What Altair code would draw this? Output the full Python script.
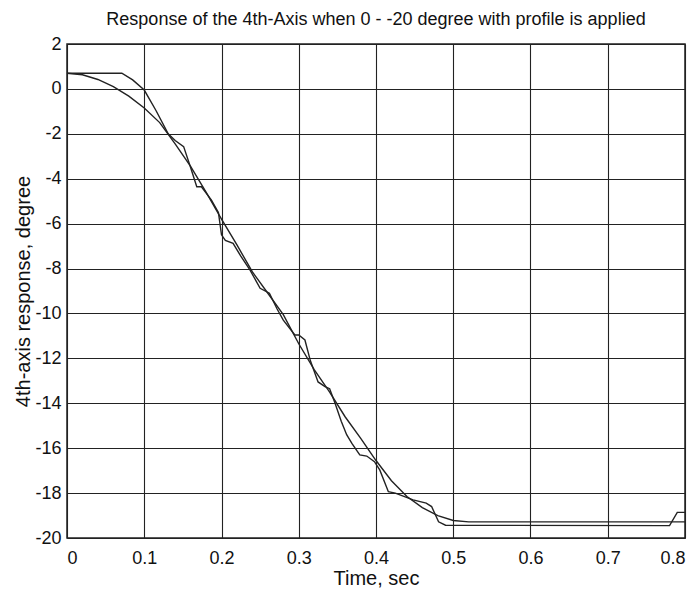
import altair as alt
import pandas as pd

# Reference (smooth) profile
profile_t = [0.00, 0.02, 0.04, 0.06, 0.08, 0.10, 0.12, 0.14, 0.16, 0.18, 0.20,
             0.22, 0.24, 0.26, 0.28, 0.30, 0.32, 0.34, 0.36, 0.38, 0.40, 0.42,
             0.44, 0.46, 0.48, 0.50, 0.52, 0.80]
profile_y = [0.70, 0.63, 0.42, 0.10, -0.32, -0.85, -1.50, -2.45, -3.45, -4.60, -5.80,
             -6.95, -8.15, -9.10, -10.05, -11.35, -12.50, -13.50, -14.60, -15.55, -16.55, -17.45,
             -18.15, -18.65, -19.00, -19.22, -19.28, -19.28]

# Measured (stepped) response
resp_t = [0.000, 0.071, 0.085, 0.100, 0.115, 0.131, 0.140, 0.151, 0.160, 0.168, 0.174,
          0.187, 0.196, 0.200, 0.205, 0.215, 0.225, 0.237, 0.250, 0.262, 0.272, 0.280,
          0.295, 0.300, 0.308, 0.315, 0.325, 0.334, 0.340, 0.347, 0.355, 0.362, 0.369,
          0.379, 0.388, 0.398, 0.405, 0.416, 0.425, 0.448, 0.465, 0.472, 0.481, 0.490,
          0.780, 0.790, 0.800]
resp_y = [0.70, 0.70, 0.40, -0.05, -0.95, -2.00, -2.30, -2.57, -3.50, -4.36, -4.36,
          -4.95, -5.50, -6.50, -6.75, -6.88, -7.45, -8.07, -8.88, -9.10, -9.80, -10.30,
          -10.96, -10.96, -11.18, -12.10, -13.05, -13.26, -13.35, -14.00, -14.80, -15.40, -15.80,
          -16.30, -16.35, -16.60, -16.98, -17.94, -18.00, -18.30, -18.45, -18.60, -19.28, -19.43,
          -19.45, -18.86, -18.86]

x_ticks = [0, 0.1, 0.2, 0.3, 0.4, 0.5, 0.6, 0.7, 0.8]
y_ticks = [-20, -18, -16, -14, -12, -10, -8, -6, -4, -2, 0, 2]

df = pd.concat([
    pd.DataFrame({"t": profile_t, "y": profile_y, "series": "profile",
                  "i": range(len(profile_t))}),
    pd.DataFrame({"t": resp_t, "y": resp_y, "series": "response",
                  "i": range(len(resp_t))}),
])

FONT = "Liberation Sans"

chart = alt.Chart(df).mark_line(color="#222", strokeWidth=1.4).encode(
    x=alt.X("t:Q",
            scale=alt.Scale(domain=[0, 0.8], nice=False, zero=False),
            axis=alt.Axis(values=x_ticks, title="Time, sec",
                          labelExpr="datum.value == 0 ? '0' : format(datum.value, '.1f')",
                          labelPadding=11, titlePadding=1)),
    y=alt.Y("y:Q",
            scale=alt.Scale(domain=[-20, 2], nice=False, zero=False),
            axis=alt.Axis(values=y_ticks, title="4th-axis response, degree",
                          labelExpr="'' + datum.value",
                          labelPadding=6, titlePadding=1)),
    detail="series:N",
    order="i:Q",
).properties(
    width=618,
    height=494,
    title=alt.TitleParams("Response of the 4th-Axis when 0 - -20 degree with profile is applied",
                          font=FONT, fontSize=18, fontWeight="normal", color="#111",
                          anchor="middle", offset=6),
    autosize=alt.AutoSizeParams(type="none"),
    padding={"left": 67, "top": 44, "right": 15, "bottom": 52},
).configure_view(
    stroke="#222", strokeWidth=1.5
).configure_axis(
    grid=True, gridColor="#222", gridWidth=1.1, gridOpacity=1,
    domain=False, ticks=False,
    labelFont=FONT, labelFontSize=18, labelColor="#111",
    titleFont=FONT, titleFontSize=20, titleFontWeight="normal", titleColor="#111",
)

chart.save("out.html", embed_options={"renderer": "svg", "actions": False})
